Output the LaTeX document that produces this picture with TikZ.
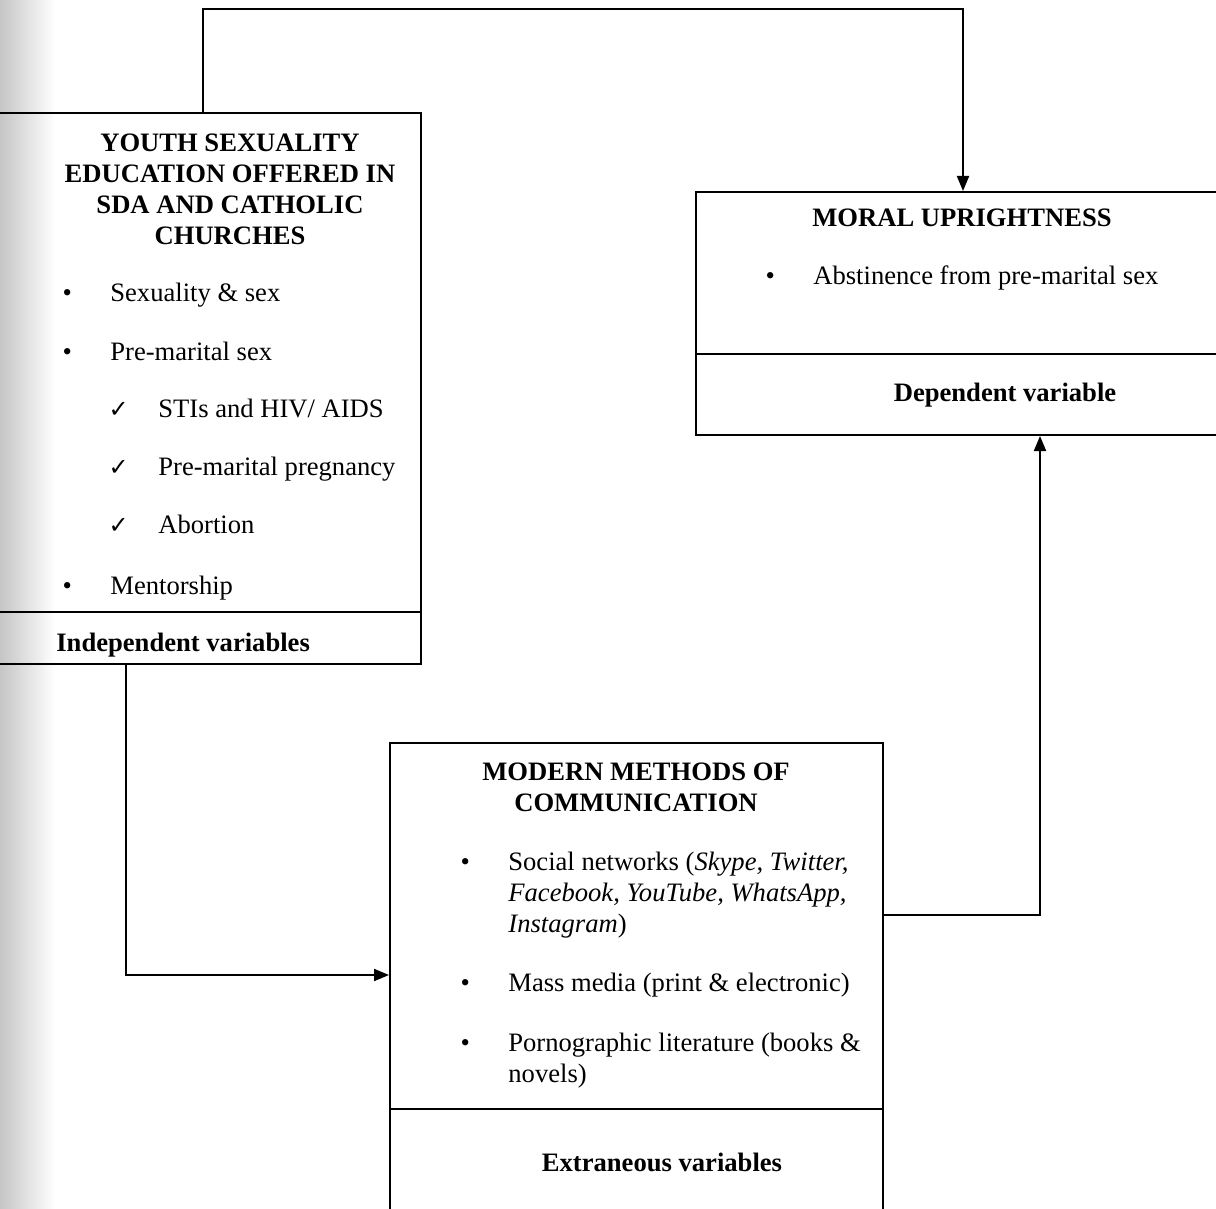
\documentclass[tikz,border=0pt]{standalone}
\usepackage{fontspec}
\setmainfont{Liberation Serif}
\newfontfamily\symfont{DejaVu Sans}
\usetikzlibrary{arrows.meta}
\usetikzlibrary{fit}

\tikzset{
  box/.style={draw, line width=1pt, inner sep=0pt},
  link/.style={line width=1pt, -{Triangle[length=7.5pt, width=6pt]}},
  txt/.style={inner sep=0pt, font=\fontsize{13.3}{15.5}\selectfont},
  head/.style={txt, font=\fontsize{13.3}{15.5}\selectfont\bfseries, align=center},
  item/.style={txt, anchor=base west},
}
\newcommand{\blt}{\llap{\textbullet\hspace{19.2pt}}}
\newcommand{\chk}{\llap{{\symfont\fontsize{12}{12}\selectfont ✓}\hspace{14.8pt}}}

\begin{document}
\begin{tikzpicture}[x=0.5pt, y=-0.5pt]
\useasboundingbox (0,0) rectangle (1216,1209);
\fill[white] (0,0) rectangle (1216,1209);
\shade[left color=gray!45, right color=white] (0,0) rectangle (55,1209);

\node[box, fit={(-15,113) (421,664)}] (indep) {};
\node[box, fit={(696,192) (1230,435)}] (moral) {};
\node[box, fit={(390,743) (883,1230)}] (media) {};
\draw[line width=1pt] (indep.south west) ++(0,-53) -- ++(436,0);
\draw[line width=1pt] (moral.south west) ++(0,-82) -- ++(534,0);
\draw[line width=1pt] (media.north west) ++(0,367) -- ++(493,0);

%%%%%%%%%%%%%%%%%%%%%%%%%%%%%%%%%%%%%%%%

\node[head, anchor=north] (indep-title) at (230,133.4)
  {YOUTH SEXUALITY\\EDUCATION OFFERED IN\\SDA AND CATHOLIC\\CHURCHES};
\node[item] (sexuality) at (110,302) {\blt Sexuality \& sex};
\node[item] (premarital) at (110,360) {\blt Pre-marital sex};
\node[item] (stis) at (158,417) {\chk STIs and HIV/ AIDS};
\node[item] (pregnancy) at (158,475) {\chk Pre-marital pregnancy};
\node[item] (abortion) at (158,533) {\chk Abortion};
\node[item] (mentorship) at (110,594) {\blt Mentorship};
\node[item, font=\fontsize{13.3}{15.5}\selectfont\bfseries] (indep-label) at (56,651) {Independent variables};

\node[head, anchor=base] (moral-title) at (962,227) {MORAL UPRIGHTNESS};
\node[item] (abstinence) at (813,285) {\blt Abstinence from pre-marital sex};
\node[head, anchor=base] (moral-label) at (1005,401) {Dependent variable};

\node[head, anchor=north] (media-title) at (636,762.4) {MODERN METHODS OF\\COMMUNICATION};
\node[txt, anchor=north west, align=left] (social) at (508,851.6)
  {\blt Social networks (\textit{Skype, Twitter,}\\\textit{Facebook, YouTube, WhatsApp,}\\\textit{Instagram})};
\node[item] (massmedia) at (508,991) {\blt Mass media (print \& electronic)};
\node[txt, anchor=north west, align=left] (porn) at (508,1032.6)
  {\blt Pornographic literature (books \&\\novels)};
\node[head, anchor=base] (media-label) at (662,1171) {Extraneous variables};

%%%%%%%%%%%%%%%%%%%%%%%%%%%%%%%%%%%%%%%%

\coordinate (bend) at (126,975);
\coordinate (turn) at (1040,915);
\draw[link] (indep.north) -- ++(0,-103) -| (moral.north);
\draw[link] (indep.south -| bend) |- (media.west |- bend);
\draw[link] (media.east |- turn) -| (moral.south -| turn);

\end{tikzpicture}
\end{document}
